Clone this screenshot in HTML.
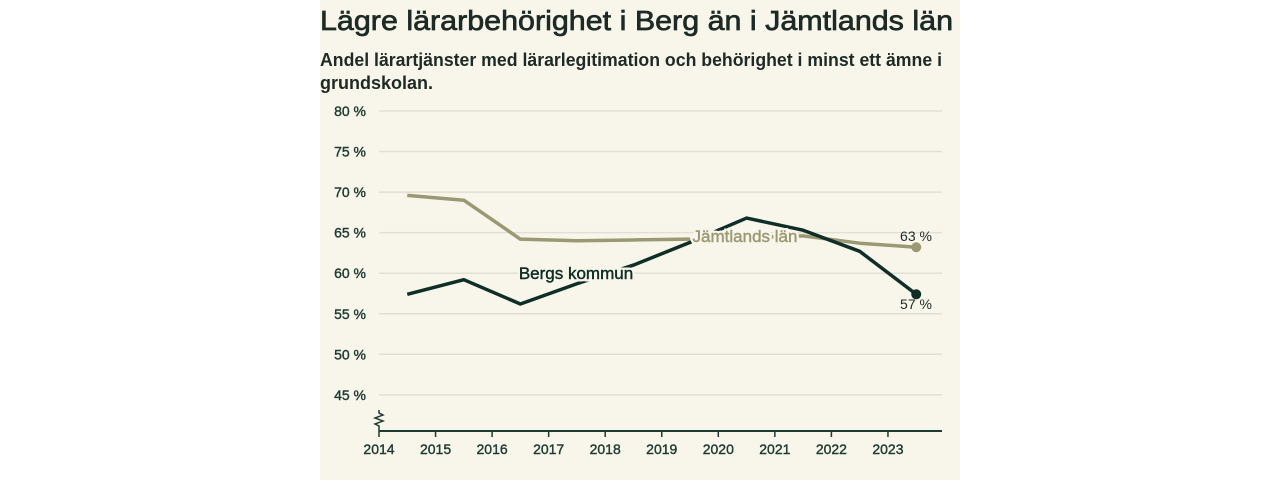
<!DOCTYPE html>
<html><head><meta charset="utf-8"><style>
html,body{margin:0;padding:0;background:#fff;width:1280px;height:480px;overflow:hidden}
svg{display:block;font-family:"Liberation Sans",sans-serif}
</style></head><body>
<svg id="chart" width="1280" height="480">
<rect x="320" y="0" width="640" height="480" fill="#f8f6eb"/>
<text x="320" y="30" font-size="28" fill="#1d2a26" stroke="#1d2a26" stroke-width="0.7" textLength="633" lengthAdjust="spacingAndGlyphs">Lägre lärarbehörighet i Berg än i Jämtlands län</text>
<text x="320" y="66" font-size="18" font-weight="bold" fill="#1d2a26" textLength="622" lengthAdjust="spacingAndGlyphs">Andel lärartjänster med lärarlegitimation och behörighet i minst ett ämne i</text>
<text x="320" y="89" font-size="18" font-weight="bold" fill="#1d2a26">grundskolan.</text>
<g id="grid"></g><g id="axes"></g><g id="series"></g><g id="labels"></g>
</svg>
<script>
const years=[2014,2015,2016,2017,2018,2019,2020,2021,2022,2023];
const yTicks=[45,50,55,60,65,70,75,80];
const jamtland=[69.6,69.0,64.2,64.0,64.1,64.2,64.4,64.6,63.7,63.2];
const berg=[57.4,59.2,56.2,58.7,61.0,63.8,66.8,65.3,62.7,57.4];
const NS='http://www.w3.org/2000/svg';
const X=v=>379+(v-2014)*56.55;
const Y=v=>111+(80-v)*8.11;
function mk(t,a,p){const e=document.createElementNS(NS,t);for(const k in a)e.setAttribute(k,a[k]);p.appendChild(e);return e;}
const grid=document.getElementById('grid'),axes=document.getElementById('axes'),ser=document.getElementById('series'),lab=document.getElementById('labels');
yTicks.forEach(t=>{
 const l=mk('line',{x1:379,x2:942,y1:Y(t),y2:Y(t),stroke:'#e2dfd4','stroke-width':1.5},grid);
 
 
 const tx=mk('text',{x:366,y:Y(t)+5,'text-anchor':'end','font-size':14,fill:'#1d3a33',stroke:'#1d3a33','stroke-width':0.4},grid);
 tx.textContent=t+' %';
 
 
});
const ax=mk('line',{x1:379,x2:942,y1:431,y2:431,stroke:'#1d3a33','stroke-width':2},axes);


const sq=mk('path',{d:'M379 431 L379 426 L375 424 L383 421 L375 418 L383 415 L379 413 L379 410',fill:'none',stroke:'#1d3a33','stroke-width':1.5},axes);


years.forEach(y=>{
 const tk=mk('line',{x1:X(y),x2:X(y),y1:431,y2:437,stroke:'#1d3a33','stroke-width':1.5},axes);
 
 
 const tx=mk('text',{x:X(y),y:454,'text-anchor':'middle','font-size':14,fill:'#1d3a33',stroke:'#1d3a33','stroke-width':0.4},axes);
 tx.textContent=y;
 
 
});
function line(vals,col,name){
 const d=vals.map((v,i)=>(i?'L':'M')+X(years[i]+0.5)+' '+Y(v)).join(' ');
 const p=mk('path',{d:d,fill:'none',stroke:col,'stroke-width':3.5,'stroke-linejoin':'round'},ser);
 
 
 const n=vals.length-1;
 const c=mk('circle',{cx:X(years[n]+0.5),cy:Y(vals[n]),r:5,fill:col},ser);
 
 
}
line(jamtland,'#9b9874','jamtland');
line(berg,'#0f2e27','berg');
function label(txt,x,y,col,name,size,halo){
 const t=mk('text',{x:x,y:y,'text-anchor':'middle','font-size':size,fill:col},lab);
 if(halo){t.setAttribute('stroke','#f8f6eb');t.setAttribute('stroke-width',5);t.setAttribute('paint-order','stroke');}
 t.textContent=txt;
 
 
 if(halo){
  const t2=mk('text',{x:x,y:y,'text-anchor':'middle','font-size':size,fill:col,stroke:col,'stroke-width':0.4},lab);
  t2.textContent=txt;
  
  
 }
}
label('Bergs kommun',576,279,'#0f2e27','berg-series-label',17,true);
label('Jämtlands län',745,242,'#9b9874','jamtland-series-label',17,true);
label(Math.round(jamtland[9])+' %',916,241,'#1d2a26','jamtland-end-value',14,false);
label(Math.round(berg[9])+' %',916,309,'#1d2a26','berg-end-value',14,false);
</script>
</body></html>
